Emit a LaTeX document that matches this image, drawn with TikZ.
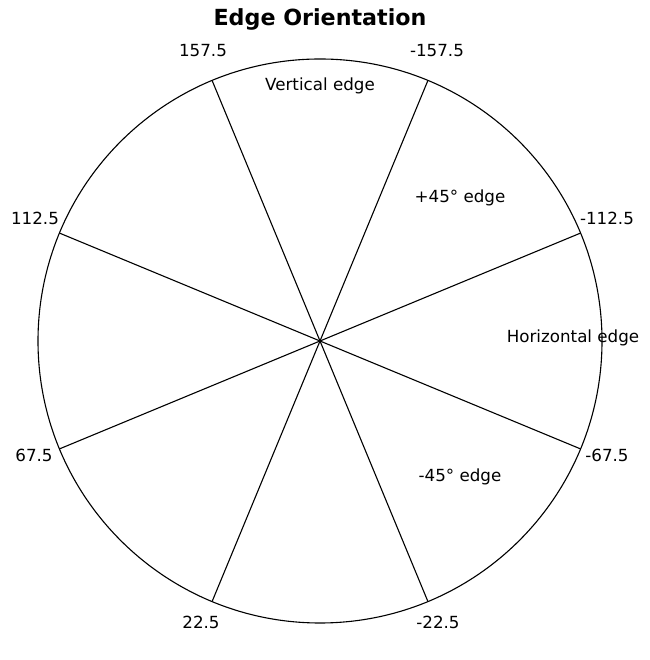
\documentclass[tikz,border=0pt]{standalone}
\usepackage{fontspec}
\setmainfont{DejaVu Sans}
\usepackage{tikz}
\usetikzlibrary{calc}
\definecolor{plotblack}{HTML}{000000}

\tikzset{
  anglelabel/.style={anchor=base, text=plotblack, inner sep=0pt},
  edgelabel/.style={anchor=base, text=plotblack, inner sep=0pt}
}

\begin{document}
\begin{tikzpicture}[x=1pt, y=1pt, line width=1.1pt, font=\fontsize{16.7}{20}\selectfont]
  \useasboundingbox (0,0) rectangle (649,660);
  \coordinate (c) at (320,319);

  % circle and spokes
  \draw[plotblack] (c) circle [radius=282];
  \foreach \a [count=\i] in {22.5,67.5,112.5,157.5} {
    \coordinate (s\i) at ($(c)+(\a:282)$);
    \coordinate (t\i) at ($(c)+(\a+180:282)$);
    \draw[plotblack] (s\i) -- (t\i);
  }

  % angle labels
  \node[anglelabel] (l1) at (203,603) {157.5};
  \node[anglelabel] (l2) at (437,603) {-157.5};
  \node[anglelabel] (l3) at (35,435) {112.5};
  \node[anglelabel] (l4) at (607,435) {-112.5};
  \node[anglelabel] (l5) at (34,198) {67.5};
  \node[anglelabel] (l6) at (607,198) {-67.5};
  \node[anglelabel] (l7) at (201,31) {22.5};
  \node[anglelabel] (l8) at (438,31) {-22.5};

  % orientation labels
  \node[edgelabel] (vert) at (320,569) {Vertical edge};
  \node[edgelabel] (plus) at (460,457) {+45° edge};
  \node[edgelabel] (horz) at (573,317) {Horizontal edge};
  \node[edgelabel] (minus) at (460,178) {-45° edge};

  \node[anchor=base, inner sep=0pt, font=\fontsize{22.2}{26}\selectfont\bfseries] (title) at (320,634) {Edge Orientation};
\end{tikzpicture}
\end{document}
